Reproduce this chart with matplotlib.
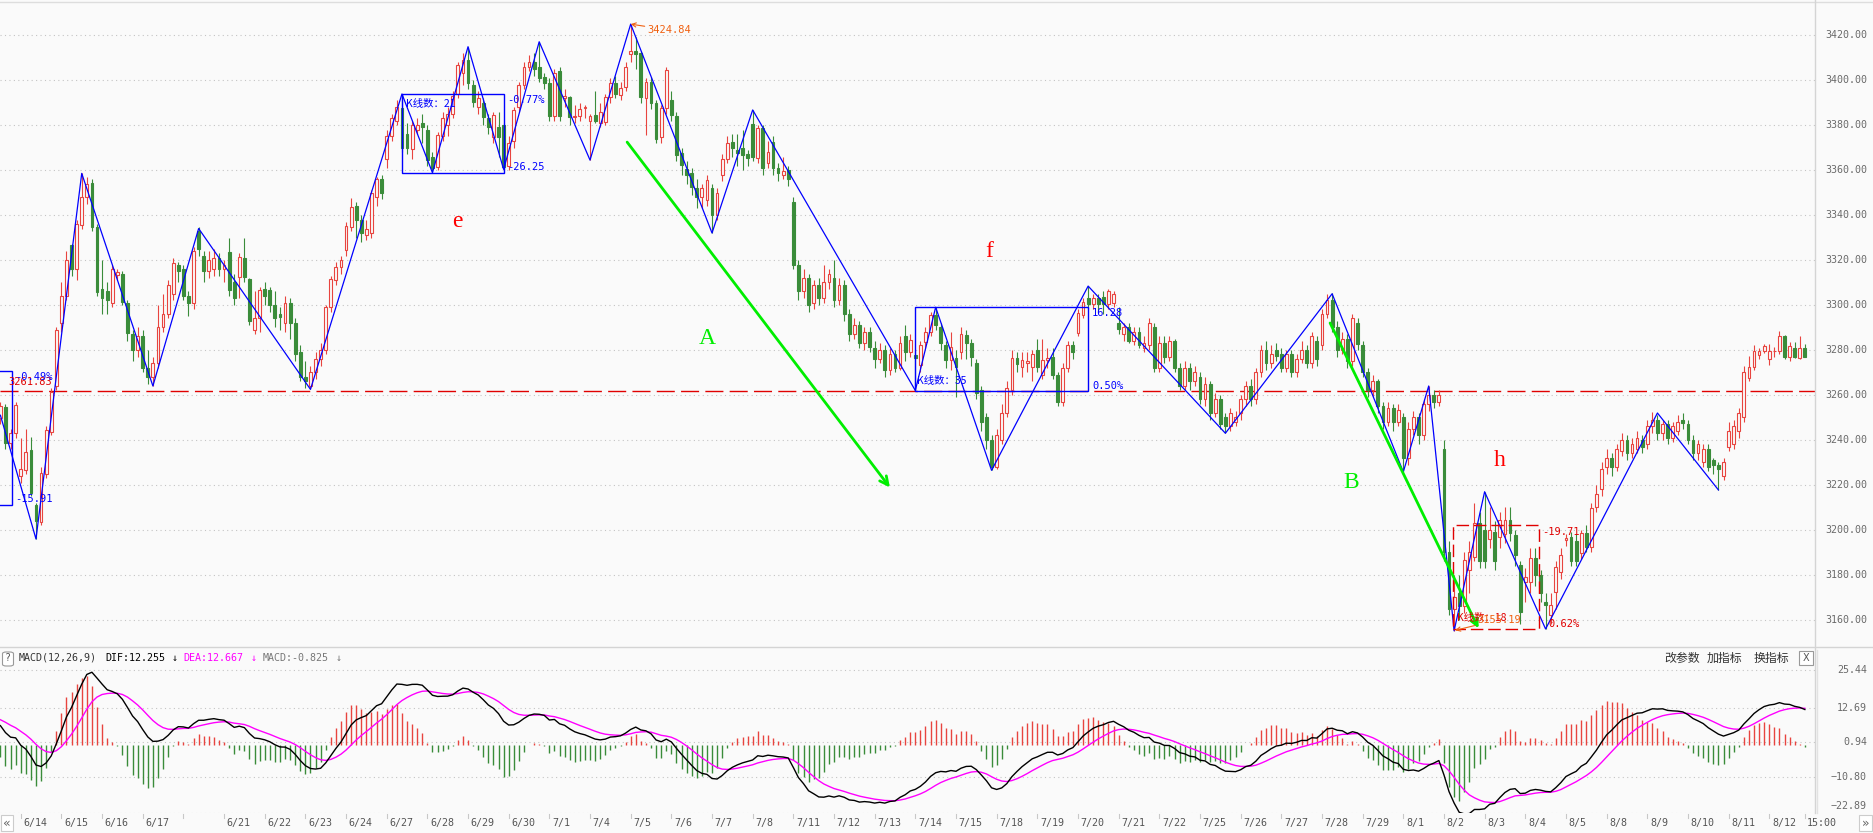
import numpy as np
import matplotlib
matplotlib.use('Agg')
import matplotlib.pyplot as plt
from matplotlib.patches import Rectangle, FancyBboxPatch
from matplotlib.transforms import blended_transform_factory

# 30 min bars: last 4 bars of 6/13, then 6/14 .. 8/12 (8 bars a day)
days = ['6/14', '6/15', '6/16', '6/17', '6/20', '6/21', '6/22', '6/23', '6/24',
        '6/27', '6/28', '6/29', '6/30', '7/1', '7/4', '7/5', '7/6', '7/7', '7/8',
        '7/11', '7/12', '7/13', '7/14', '7/15', '7/18', '7/19', '7/20', '7/21', '7/22',
        '7/25', '7/26', '7/27', '7/28', '7/29', '8/1', '8/2', '8/3', '8/4', '8/5',
        '8/8', '8/9', '8/10', '8/11', '8/12']
hidden_labels = ['6/20']

opens = [
    3249.6, 3254.8, 3238.8, 3243,
    3224, 3226.7, 3235.5, 3211, 3203.7, 3224.9, 3243.7, 3264,
    3292, 3304, 3326.7, 3316, 3335.6, 3348, 3354.4, 3334.8,
    3307, 3306, 3300.7, 3313.5, 3314, 3300.7, 3287, 3280,
    3286, 3272, 3268, 3274, 3290, 3296, 3305, 3318,
    3316, 3304, 3301, 3333, 3322, 3315, 3316, 3321,
    3316, 3323.7, 3310, 3312.6, 3321, 3311.4, 3289, 3294,
    3307, 3306.7, 3300, 3296, 3292, 3301, 3292, 3279,
    3268, 3264, 3270, 3276, 3280, 3299, 3311, 3317,
    3324.4, 3334.8, 3344, 3338, 3331, 3332, 3348, 3356,
    3365, 3375, 3382, 3387.5, 3376, 3369.3, 3377.8, 3381,
    3377.8, 3366, 3361.3, 3375, 3380, 3385, 3394, 3403,
    3409, 3397.8, 3388, 3389.6, 3383, 3374.8, 3379, 3380,
    3362, 3373, 3388, 3397.8, 3406, 3408, 3406, 3401.5,
    3398.5, 3384, 3404, 3392, 3392.6, 3383.5, 3384, 3387.6,
    3382, 3384.4, 3381, 3381.5, 3392.3, 3398.8, 3393.3, 3396.7,
    3411.4, 3413, 3411.9, 3391.9, 3399.3, 3389.6, 3374.8, 3387.4,
    3391, 3384, 3367.6, 3360.5, 3358.6, 3352, 3348, 3346.7,
    3352, 3340, 3357.8, 3365, 3372.6, 3369, 3370, 3367,
    3380.4, 3365.2, 3378.5, 3363, 3372.6, 3361, 3358, 3360,
    3346, 3318, 3306, 3312, 3301, 3309, 3303, 3310,
    3312, 3302, 3309, 3296, 3287, 3291, 3283, 3288,
    3281, 3276, 3280, 3271, 3278, 3272, 3286, 3279.2,
    3277.8, 3273.3, 3283.7, 3288.1, 3295.6, 3290.4, 3282, 3275.5,
    3276.4, 3279.2, 3286.6, 3283.1, 3274, 3262.4, 3250, 3240,
    3228, 3240, 3252, 3262.2, 3276.4, 3272.6, 3274, 3272.6,
    3279.8, 3268.9, 3275.5, 3277, 3268.9, 3257, 3272, 3282,
    3287.6, 3295.6, 3303.3, 3300.3, 3303, 3303.5, 3300.3, 3301,
    3292, 3287, 3290, 3284, 3288, 3281, 3282, 3290,
    3272, 3283, 3277, 3284, 3272, 3264, 3272, 3266,
    3268, 3258, 3265, 3252, 3258, 3250, 3246, 3248,
    3252, 3258, 3264, 3258, 3270, 3280, 3274, 3280,
    3278, 3272, 3278, 3270, 3276, 3280, 3274, 3284,
    3282, 3296, 3302, 3290, 3280, 3285, 3275, 3292,
    3282, 3270, 3262, 3266, 3255, 3248, 3254, 3248,
    3250, 3232, 3245, 3250, 3242, 3256, 3260, 3257,
    3236, 3190, 3165, 3172, 3166, 3182, 3188, 3203,
    3200, 3196, 3199, 3197, 3198, 3204.4, 3197.8, 3184.4,
    3177, 3177, 3187.4, 3180, 3168, 3162, 3172.6, 3181.5,
    3195.5, 3197, 3195, 3189.6, 3198.5, 3192.6, 3210, 3218,
    3228, 3232, 3228, 3235, 3240, 3234, 3236, 3240,
    3238, 3246, 3249, 3243, 3247, 3241, 3244, 3249,
    3247, 3240, 3234, 3230, 3236, 3231, 3229, 3224,
    3237, 3238, 3244, 3250, 3267.7, 3272.4, 3277.7, 3279.6,
    3275.8, 3279.4, 3279.5, 3286.4, 3276.7, 3281, 3276.3, 3280.7,
]
highs = [
    3257, 3256, 3245, 3257,
    3241, 3245, 3241.5, 3212, 3228, 3246, 3263, 3290,
    3310, 3324, 3327, 3338, 3358.5, 3357, 3356, 3336,
    3320, 3310, 3318, 3316, 3315, 3302, 3289, 3290,
    3289, 3280, 3277, 3300, 3305, 3311, 3321, 3319,
    3318, 3306, 3326, 3334.5, 3324, 3324, 3325, 3323,
    3320, 3330, 3314, 3323, 3330, 3312, 3306, 3308,
    3310, 3308, 3306, 3299, 3304, 3303, 3294, 3282,
    3275, 3273, 3279, 3283, 3300, 3313, 3319, 3322,
    3337, 3347.5, 3346, 3340, 3338, 3351, 3357, 3358,
    3378, 3385, 3391, 3394, 3381, 3382, 3383, 3385,
    3380, 3368, 3377, 3386, 3388, 3395, 3408, 3412,
    3414.8, 3400, 3395, 3392, 3385, 3386, 3386, 3381,
    3375, 3388, 3399, 3408, 3411, 3412, 3417, 3403,
    3401, 3405, 3406, 3396, 3393, 3389, 3390, 3389,
    3385, 3395, 3390, 3394, 3401, 3402, 3399, 3408,
    3424.84, 3419, 3413, 3401, 3401.5, 3391, 3389, 3406,
    3395, 3386, 3370, 3364, 3361, 3356, 3354, 3358,
    3354, 3352, 3367, 3375, 3376, 3376, 3378, 3369,
    3386.7, 3380, 3380, 3373, 3375, 3363, 3366, 3362,
    3348, 3320, 3316, 3314, 3311, 3312, 3318, 3316,
    3320, 3312, 3311, 3298, 3294, 3293, 3290, 3290,
    3284, 3283, 3282, 3281, 3280, 3286, 3291, 3287,
    3280, 3284, 3290, 3297, 3299, 3292, 3284, 3288,
    3280, 3290, 3289, 3285, 3276, 3264, 3252, 3242,
    3245, 3256, 3266, 3280, 3279, 3279, 3279, 3280,
    3285, 3285, 3281, 3281, 3270, 3274, 3284, 3284,
    3298, 3303, 3308.4, 3305, 3305, 3306, 3307, 3306,
    3299, 3292, 3292, 3290, 3290, 3286, 3294, 3292,
    3286, 3286, 3286, 3285, 3274, 3275, 3274, 3273,
    3270, 3268, 3266, 3261, 3260, 3252, 3254, 3253,
    3260, 3266, 3267, 3272, 3282, 3284, 3282, 3283,
    3281, 3280, 3280, 3278, 3284, 3282, 3288, 3286,
    3298, 3305, 3305.5, 3293, 3288, 3287, 3296, 3294,
    3284, 3272, 3269, 3267, 3257, 3257, 3256, 3256,
    3252, 3248, 3253, 3252, 3258, 3264, 3262, 3262,
    3240, 3195, 3180, 3180, 3190, 3195, 3212, 3208,
    3217, 3210, 3204, 3208, 3210, 3210, 3200, 3186,
    3183, 3192, 3192, 3182, 3172, 3172, 3186, 3192,
    3198, 3199, 3198, 3200, 3202, 3212, 3220, 3230,
    3236, 3234, 3238, 3243, 3242, 3241, 3244, 3242,
    3249, 3252.5, 3251, 3249, 3249, 3248, 3251, 3252,
    3249, 3242, 3240, 3238, 3238, 3232, 3230, 3232,
    3248, 3249, 3254, 3273, 3277.5, 3282, 3281, 3282.5,
    3282.5, 3281.5, 3288.6, 3286.8, 3283.7, 3283.7, 3286.4, 3282.5,
]
lows = [
    3247, 3236, 3236, 3241,
    3221, 3225, 3215, 3196, 3202, 3223, 3242, 3262,
    3288, 3302, 3313, 3311, 3334, 3345, 3333, 3304,
    3296, 3296, 3299, 3311, 3300, 3284, 3275, 3277,
    3270, 3265, 3264, 3272, 3288, 3294, 3302, 3310,
    3302, 3295, 3298, 3322, 3310, 3312, 3313, 3313,
    3310, 3304, 3300, 3303, 3310, 3291, 3287, 3288,
    3300, 3297, 3290, 3289, 3288, 3285, 3275, 3266,
    3263, 3262.5, 3267, 3273, 3278, 3297, 3309, 3314,
    3322, 3333, 3330, 3328, 3329, 3330, 3344, 3347,
    3361, 3373, 3380, 3368, 3367, 3365, 3376, 3372,
    3362, 3358.8, 3360, 3373, 3375, 3383, 3392, 3398,
    3396, 3388, 3385, 3380, 3376, 3372, 3366, 3360.3,
    3360, 3370, 3386, 3396, 3404, 3402, 3399, 3396,
    3382, 3382, 3382, 3388, 3380, 3381, 3382, 3383,
    3364.4, 3381, 3379, 3380, 3390, 3392, 3391, 3395,
    3408, 3405, 3390, 3375.6, 3387, 3372, 3372, 3385,
    3382, 3364, 3358, 3354, 3349, 3343, 3343, 3344,
    3332, 3338, 3355, 3363, 3366, 3362, 3360, 3362,
    3364, 3363, 3358, 3361, 3358, 3355, 3356, 3353,
    3316, 3302, 3303, 3297, 3298, 3300, 3301, 3307,
    3299, 3300, 3293, 3284, 3285, 3281, 3280, 3279,
    3272, 3274, 3268, 3269, 3270, 3271, 3275, 3277,
    3262.2, 3270, 3281, 3286, 3289, 3280, 3272, 3271,
    3259, 3276, 3276, 3273, 3258, 3244, 3236, 3226.5,
    3227, 3238, 3250, 3260, 3270, 3268, 3270, 3266,
    3270, 3267, 3272, 3267, 3255, 3255, 3270, 3276,
    3286, 3294, 3298, 3298, 3297, 3296, 3298, 3299,
    3287, 3284, 3283, 3282, 3281, 3279, 3280, 3270,
    3270, 3274, 3275, 3270, 3262, 3262, 3262, 3264,
    3256, 3255, 3249, 3250, 3245, 3243, 3244, 3246,
    3249, 3255, 3255, 3256, 3268, 3271, 3272, 3275,
    3270, 3270, 3268, 3268, 3274, 3272, 3272, 3273,
    3280, 3294, 3288, 3277, 3278, 3272, 3273, 3280,
    3268, 3259, 3259, 3252, 3245, 3246, 3244, 3246,
    3225.8, 3229, 3242, 3238, 3240, 3253, 3254, 3255,
    3186, 3162, 3155.2, 3160, 3163, 3172, 3186, 3183,
    3183, 3192, 3182, 3192, 3194, 3195, 3184, 3158,
    3168, 3172, 3175, 3168, 3156, 3158, 3165, 3178,
    3193, 3184, 3184, 3187, 3190, 3190, 3208, 3215,
    3225, 3224, 3226, 3233, 3231, 3232, 3234, 3234,
    3236, 3243, 3240, 3240, 3238, 3239, 3242, 3245,
    3238, 3231, 3231, 3228, 3226, 3225, 3217.8, 3222,
    3235, 3236, 3241, 3248, 3266, 3271, 3276, 3278.5,
    3273.2, 3277, 3278, 3276.2, 3275.3, 3276.3, 3276, 3276.7,
]
closes = [
    3255.1, 3238.5, 3243, 3255.5,
    3227, 3234.8, 3216.6, 3204, 3225.3, 3244.4, 3261.5, 3289,
    3304, 3320, 3316, 3336, 3348, 3354, 3334.5, 3305.9,
    3303, 3302, 3316, 3314.5, 3301.5, 3287.4, 3280, 3286,
    3272, 3268, 3274, 3290, 3296, 3309, 3318.5, 3315,
    3304, 3301, 3324, 3325, 3315, 3320, 3321, 3316,
    3318, 3306.7, 3303, 3321.5, 3312.3, 3293, 3294, 3306.7,
    3304, 3300, 3294, 3294.5, 3301, 3292, 3278, 3268,
    3266, 3270, 3276, 3280, 3299, 3311.4, 3317, 3320,
    3335, 3343.7, 3338, 3332, 3334, 3349.6, 3356, 3350,
    3375, 3383, 3388, 3370, 3370, 3380, 3380, 3379,
    3364.4, 3361, 3375.6, 3383, 3385, 3393, 3406.7, 3409,
    3398.5, 3390.4, 3392, 3383.4, 3379, 3384.4, 3374.8, 3361.5,
    3372, 3386.7, 3397.8, 3406, 3408, 3405, 3401, 3398.5,
    3384, 3403, 3384, 3393, 3383.7, 3384.2, 3387, 3388,
    3384, 3382, 3386, 3392.3, 3398.8, 3394, 3396.6, 3405.9,
    3412.9, 3411.5, 3392.3, 3399, 3390, 3374, 3387.4, 3404.4,
    3384.4, 3366.7, 3362.2, 3358, 3352.6, 3348, 3352, 3355.6,
    3340, 3350, 3365, 3372, 3369.6, 3367.5, 3366.7, 3365.5,
    3366, 3378.5, 3360.7, 3368, 3360.7, 3358.5, 3359.5, 3356,
    3318, 3306, 3312, 3300, 3309, 3303, 3310, 3313.6,
    3302, 3309, 3296, 3287, 3291, 3283, 3288, 3281.5,
    3276, 3280, 3271, 3278, 3272, 3283, 3279.2, 3284.4,
    3276.4, 3282, 3288, 3295.6, 3291.1, 3283.2, 3275.6, 3281.5,
    3272.6, 3287, 3283, 3277, 3260.9, 3248, 3240, 3228,
    3242, 3252, 3263, 3276.4, 3273.8, 3275.6, 3275, 3278.2,
    3272.6, 3275.6, 3276.5, 3269, 3257, 3272, 3282, 3279.2,
    3296.4, 3301.5, 3300.3, 3303, 3300.5, 3300.5, 3306, 3304.7,
    3289.2, 3290, 3284, 3288, 3282, 3283, 3292, 3272,
    3283, 3277, 3284, 3272, 3264, 3272, 3266, 3270,
    3258, 3265, 3252, 3258, 3247, 3246, 3252, 3250.4,
    3258, 3264, 3258, 3270, 3280, 3274, 3278, 3277.4,
    3272, 3278, 3270, 3276, 3280, 3274, 3286, 3275.8,
    3296, 3302, 3290, 3280, 3285, 3275, 3294, 3282.6,
    3270, 3262, 3266, 3255, 3248, 3254, 3248, 3253.2,
    3232, 3245, 3250, 3242, 3256, 3260, 3257, 3260,
    3190, 3165, 3170, 3166, 3186.6, 3190, 3203, 3186.3,
    3186, 3200, 3186, 3204.4, 3204.4, 3198.5, 3188.9, 3163.7,
    3179.2, 3187.4, 3180, 3171.8, 3166.6, 3166.6, 3183.7, 3189,
    3196.3, 3186, 3186, 3198.5, 3192.6, 3209.6, 3216, 3227,
    3232, 3228, 3236, 3240, 3234, 3238, 3241, 3237,
    3246, 3249, 3243, 3247, 3241, 3246, 3248, 3247.4,
    3240, 3234, 3238, 3236, 3228, 3229, 3227, 3230,
    3244, 3246, 3252, 3270, 3272.4, 3279.6, 3279.5, 3281.8,
    3279.5, 3279.6, 3286.2, 3276.7, 3281.8, 3277, 3280.7, 3277,
]
n = len(closes)
assert len(opens) == len(highs) == len(lows) == n == 4 + 8 * len(days), (len(opens), len(highs), len(lows), n)

# zigzag pivots (bar index, price)
zz_bar = [0, 7, 16, 30, 39, 61, 79, 85, 92, 99, 106, 116, 124, 140, 148, 180, 184,
          195, 214, 241, 262, 276, 281, 286, 292, 304, 326, 338]
zz_price = [3251, 3196, 3358.5, 3264, 3334, 3262.5, 3393.8, 3358.8, 3414.8, 3360.3,
            3417, 3364.4, 3424.84, 3332, 3386.7, 3262, 3299, 3226.5, 3308.4, 3243,
            3305, 3225.8, 3264, 3155.2, 3217, 3156, 3252, 3217.8]

ref_line = 3261.9
price_ticks = list(range(3160, 3421, 20))
macd_ticks = [25.44, 12.69, 0.94, -10.80, -22.89]
# starting state of the indicator at the first visible bar
ema12_start, ema26_start, dea_start = 3262.0, 3255.4, 8.6

RED = '#e8443f'
GREEN = '#3a8c3a'
BLUE = '#0000ff'
LIME = '#00ee00'
ORANGE = '#f06010'
BG = '#fafafa'
GRID = '#c4c4c4'
MONO = 'DejaVu Sans Mono'
CJK = ['Noto Sans CJK SC', 'DejaVu Sans']

W, H = 1874, 833
fig = plt.figure(figsize=(W / 100, H / 100), dpi=100, facecolor=BG)


def fy(py):
    return 1 - py / H


ax = fig.add_axes([0, fy(646), 1815 / W, (646 - 2) / H], facecolor=BG)
axm = fig.add_axes([0, fy(813), 1815 / W, (813 - 647) / H], facecolor=BG)

x = np.arange(n)
o, h, l, c = (np.array(v, dtype=float) for v in (opens, highs, lows, closes))
up = c >= o
top = np.maximum(o, c)
bot = np.minimum(o, c)

for p in price_ticks:
    ax.axhline(p, color=GRID, lw=0.8, ls=(0, (1, 3)), zorder=0)
ax.axhline(ref_line, color='#e00000', lw=1.0, ls=(0, (13, 4.5)), zorder=1)

ax.vlines(x[up], top[up], h[up], color=RED, lw=0.8, zorder=2)
ax.vlines(x[up], l[up], bot[up], color=RED, lw=0.8, zorder=2)
ax.vlines(x[~up], l[~up], h[~up], color=GREEN, lw=0.8, zorder=2)
ax.bar(x[up], np.maximum(top - bot, 0.05)[up], bottom=bot[up], width=0.55,
       facecolor=BG, edgecolor=RED, lw=0.8, zorder=3)
ax.bar(x[~up], np.maximum(top - bot, 0.05)[~up], bottom=bot[~up], width=0.55,
       facecolor=GREEN, edgecolor=GREEN, lw=0.8, zorder=3)

ax.plot(zz_bar, zz_price, color=BLUE, lw=0.9, zorder=4)

# boxes and their stats
num = dict(family=MONO, fontsize=7.5, va='center', zorder=6)
ax.add_patch(Rectangle((-10, 3211), 12.2, 59.8, fill=False, ec=BLUE, lw=1, zorder=5))
ax.text(1.5, 3265.9, '3261.83', color='#e00000', **num)
ax.text(2.9, 3268.1, '-0.49%', color=BLUE, **num)
ax.text(2.9, 3213.8, '-15.91', color=BLUE, **num)

ax.add_patch(Rectangle((79, 3358.5), 20.1, 35.3, fill=False, ec=BLUE, lw=1, zorder=5))
ax.text(79.8, 3389.3, 'K线数：21', color=BLUE, family=CJK, fontsize=7.5, va='center', zorder=6)
ax.text(99.8, 3391, '-0.77%', color=BLUE, **num)
ax.text(99.8, 3361.2, '-26.25', color=BLUE, **num)

ax.add_patch(Rectangle((180, 3261.8), 34, 37.2, fill=False, ec=BLUE, lw=1, zorder=5))
ax.text(180.3, 3266.2, 'K线数：35', color=BLUE, family=CJK, fontsize=7.5, va='center', zorder=6)
ax.text(214.8, 3296.4, '16.28', color=BLUE, **num)
ax.text(214.8, 3264, '0.50%', color=BLUE, **num)

ax.add_patch(Rectangle((285.8, 3155.9), 16.9, 46.3, fill=False, ec='#e00000', lw=1,
                       ls=(0, (9, 3.5)), zorder=5))
ax.text(303.4, 3199.2, '-19.71', color='#e00000', **num)
ax.text(304.5, 3158, '0.62%', color='#e00000', **num)
ax.text(286.6, 3160.9, 'K线数：18', color='#e00000', family=CJK, fontsize=7.5, va='center', zorder=6)

ax.annotate('3424.84', xy=(124, 3424.84), xytext=(127.3, 3422.2), color=ORANGE,
            family=MONO, fontsize=7.5, va='center', zorder=6,
            arrowprops=dict(arrowstyle='->', color=ORANGE, lw=0.8, shrinkA=0, shrinkB=0))
ax.annotate('3155.19', xy=(286.2, 3155.4), xytext=(290.6, 3160.2), color=ORANGE,
            family=MONO, fontsize=7.5, va='center', zorder=6,
            arrowprops=dict(arrowstyle='->', color=ORANGE, lw=0.8, shrinkA=0, shrinkB=0))

# trend arrows
ax.annotate('', xy=(175, 3218.9), xytext=(123.3, 3372.4), zorder=5,
            arrowprops=dict(arrowstyle='->,head_length=0.6,head_width=0.3', color=LIME, lw=2,
                            shrinkA=0, shrinkB=0))
ax.annotate('', xy=(290.8, 3156.3), xytext=(261.6, 3292), zorder=5,
            arrowprops=dict(arrowstyle='->,head_length=0.5,head_width=0.25', color=LIME, lw=2,
                            shrinkA=0, shrinkB=0))

letter = dict(family='Liberation Serif', fontsize=17, ha='center', va='center', zorder=6)
ax.text(90, 3337, 'e', color='#ff0000', **letter)
ax.text(194.5, 3323.6, 'f', color='#ff0000', **letter)
ax.text(295, 3231, 'h', color='#ff0000', **letter)
ax.text(139, 3284.9, 'A', color=LIME, **letter)
ax.text(265.7, 3220.9, 'B', color=LIME, **letter)

ax.set_xlim(-0.08, 357.0)
ax.set_ylim(3148.44, 3434.67)

# MACD
e12, e26, dea = ema12_start, ema26_start, dea_start
dif_s, dea_s = [], []
for i, cl in enumerate(c):
    if i > 0:
        e12 += (cl - e12) * 2 / 13
        e26 += (cl - e26) * 2 / 27
        dea += (e12 - e26 - dea) * 2 / 10
    dif_s.append(e12 - e26)
    dea_s.append(dea)
dif_s = np.array(dif_s)
dea_s = np.array(dea_s)
hist = 2 * (dif_s - dea_s)

for v in macd_ticks:
    axm.axhline(v, color=GRID, lw=0.8, ls=(0, (1, 3)), zorder=0)
pos = hist >= 0
axm.vlines(x[pos], 0, hist[pos], color=RED, lw=1.0, zorder=2)
axm.vlines(x[~pos], 0, hist[~pos], color=GREEN, lw=1.0, zorder=2)
axm.plot(x, dea_s, color='#ff00ff', lw=1.0, zorder=3)
axm.plot(x, dif_s, color='black', lw=1.0, zorder=4)
axm.set_xlim(-0.08, 357.0)
axm.set_ylim(-22.99, 33.23)

for a in (ax, axm):
    a.set_xticks([])
    a.set_yticks([])
    for s in a.spines.values():
        s.set_visible(False)

# frame lines
fig.add_artist(plt.Line2D([0, 1], [fy(1.5), fy(1.5)], color='#dddddd', lw=1))
fig.add_artist(plt.Line2D([0, 1], [fy(646.5), fy(646.5)], color='#d4d4d4', lw=1))
fig.add_artist(plt.Line2D([1815.5 / W, 1815.5 / W], [fy(0), fy(813)], color='#d4d4d4', lw=1))
fig.add_artist(plt.Line2D([1817.5 / W, 1817.5 / W], [fy(650), fy(813)], color='#e2e2e2', lw=1))

# right axis labels
tp = blended_transform_factory(fig.transFigure, ax.transData)
for p in price_ticks:
    fig.text(1825 / W, p, f'{p:.2f}', transform=tp, family=MONO, fontsize=7.2,
             color='#6a6a6a', va='center')
tm = blended_transform_factory(fig.transFigure, axm.transData)
for v in macd_ticks:
    yv = v if v > -22 else v + 2.4
    fig.text(1867 / W, yv, f'{v:.2f}'.replace('-', '−'), transform=tm, family=MONO,
             fontsize=7.2, color='#6a6a6a', va='center', ha='right')

# MACD header
hy = fy(658)
fig.add_artist(FancyBboxPatch((2.5 / W, fy(666)), 11 / W, 14 / H, boxstyle='round,pad=0,rounding_size=0.002',
                              transform=fig.transFigure, fc='white', ec='#999999', lw=0.8))
fig.text(8 / W, hy, '?', family=MONO, fontsize=7, color='#555555', ha='center', va='center')
hdr = [(19, 'MACD(12,26,9)', '#333333'), (105, 'DIF:12.255', 'black'), (172, '↓', 'black'),
       (183, 'DEA:12.667', '#ff00ff'), (251, '↓', '#ff00ff'),
       (262.5, 'MACD:-0.825', '#777777'), (336, '↓', '#777777')]
for xp, t, col in hdr:
    fig.text(xp / W, hy, t, family=MONO, fontsize=7.2, color=col, va='center')
for xp, t in [(1664, '改参数'), (1707, '加指标'), (1754, '换指标')]:
    fig.text(xp / W, hy, t, family=CJK, fontsize=8.6, color='#333333', va='center')
fig.add_artist(Rectangle((1799 / W, fy(665)), 14 / W, 14 / H, transform=fig.transFigure,
                         fc='white', ec='#999999', lw=0.8))
fig.text(1806 / W, hy, 'X', family='DejaVu Sans', fontsize=7, color='#555555', ha='center', va='center')

# date axis
tx = blended_transform_factory(axm.transData, fig.transFigure)
ly = fy(823)
for d, lab in enumerate(days):
    b = 4 + 8 * d
    axm.plot([b, b], [fy(813.5), fy(818)], transform=tx, color='#c8c8c8', lw=0.8, clip_on=False)
    if lab not in hidden_labels:
        axm.text(b + 0.55, ly, lab, transform=tx, family=MONO, fontsize=7.2,
                 color='#555555', va='center', ha='left')
axm.plot([n - 1, n - 1], [fy(813.5), fy(818)], transform=tx, color='#c8c8c8', lw=0.8, clip_on=False)
axm.text(n - 1 + 0.4, ly, '15:00', transform=tx, family=MONO, fontsize=7.2,
         color='#555555', va='center', ha='left')
fig.add_artist(Rectangle((1 / W, fy(831)), 12 / W, 16 / H, transform=fig.transFigure,
                         fc='white', ec='#cccccc', lw=0.8))
fig.text(7 / W, fy(823), '«', family='DejaVu Sans', fontsize=9, color='#666666', ha='center', va='center')
fig.add_artist(Rectangle((1859 / W, fy(831)), 13 / W, 16 / H, transform=fig.transFigure,
                         fc='white', ec='#cccccc', lw=0.8))
fig.text(1865.5 / W, fy(823), '»', family='DejaVu Sans', fontsize=9, color='#666666', ha='center', va='center')

fig.savefig('out.png', dpi=100, facecolor=BG)
